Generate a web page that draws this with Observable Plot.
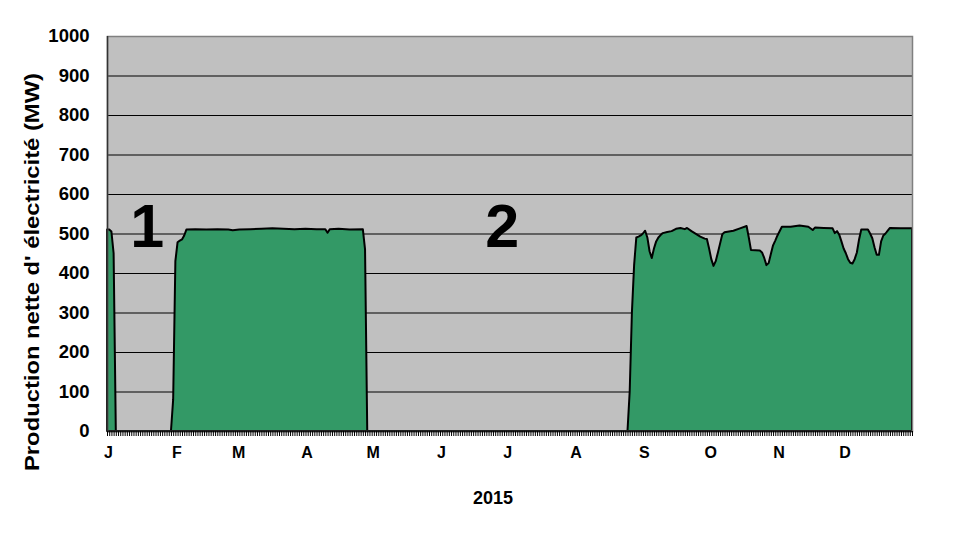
<!DOCTYPE html>
<html><head><meta charset="utf-8">
<script src="https://cdn.jsdelivr.net/npm/d3@7"></script>
<script src="https://cdn.jsdelivr.net/npm/@observablehq/plot@0.6"></script>
<style>body{margin:0;background:#fff;} svg{display:block;}</style>
</head><body><div id="chart"></div>
<script>
// Days since 1 Jan 2015 and net electricity output (MW)
const dayOffsets = [0,1,2,3,4, 29,30,31,32,33,34,35,36,
  40,45,50,55,57,60,65,70,75,80,85,90,95,99,100,101,105,110,116,117,118,
  236,237,238,239,240,241,242,243,244,245,246,247,248,249,250,251,252,
  254,256,258,260,262,263,265,267,269,271,272,273,274,275,276,277,278,279,280,
  284,287,290,291,292,296,297,298,299,300,301,302,303,304,
  306,310,314,318,320,321,325,329,330,331,332,333,334,335,336,337,338,339,340,341,342,
  345,346,347,348,349,350,351,352,353,354,355,360,365];
const outputMW = [510,510,505,450,0, 0,80,430,478,482,485,495,510,
  511,510,511,510,508,510,511,512,513,512,511,512,511,511,502,511,512,510,511,460,0,
  0,100,300,420,490,492,495,500,507,490,455,438,462,480,490,496,501,
  504,506,512,514,511,514,506,499,492,487,486,462,435,418,430,452,475,498,503,
  507,513,519,490,458,457,452,438,420,425,448,470,482,495,
  517,517,520,517,509,515,514,513,501,506,497,480,462,450,435,426,424,435,452,485,510,
  510,500,488,465,446,446,480,495,500,507,514,513,513];
const monthLetters = ["J","F","M","A","M","J","J","A","S","O","N","D"];
const yTicks = [0,100,200,300,400,500,600,700,800,900,1000];
const yearLabel = "2015";
const yTitle = "Production nette d' électricité (MW)";
const cycleLabels = ["1","2"];
const cycleDays = [18,179];
const cycleMW = [516,516];

const start = new Date(Date.UTC(2015,0,1));
const end = new Date(Date.UTC(2016,0,1));
const data = dayOffsets.map((d,i)=>({date: d3.utcDay.offset(start,d), mw: outputMW[i]}));
const months = d3.utcMonth.range(start, end);
const days = d3.utcDay.range(start, d3.utcDay.offset(end,1));
const font = "'Liberation Sans', Arial, sans-serif";
const narrow = "'Liberation Sans Narrow', 'Arial Narrow', 'Liberation Sans', sans-serif";

const chart = Plot.plot({
  width: 975, height: 550,
  marginTop: 36, marginLeft: 107, marginRight: 63, marginBottom: 119,
  style: {fontFamily: font, fontWeight: "bold", background: "#fff", color: "#000"},
  x: {type: "utc", domain: [start, end]},
  y: {domain: [0, 1000]},
  marks: [
    Plot.frame({fill: "#c0c0c0", stroke: null}),
    Plot.gridY({ticks: yTicks.filter(v => v > 0 && v < 1000), stroke: "#000", strokeOpacity: 1, strokeWidth: 1}),
    Plot.areaY(data, {x: "date", y: "mw", fill: "#339966", stroke: "#000", strokeWidth: 2, strokeLinejoin: "round"}),
    Plot.frame({stroke: "#808080", strokeWidth: 1.5}),
    Plot.ruleX([start], {stroke: "#333", strokeWidth: 1.5}),
    Plot.ruleY([0], {stroke: "#222", strokeWidth: 1.5}),
    Plot.axisY({ticks: yTicks, tickSize: 0, tickPadding: 18, fontSize: 18.5, label: null, tickFormat: d => String(d)}),
    Plot.axisX({ticks: days, tickSize: 5, tickFormat: () => "", label: null, stroke: "#000"}),
    Plot.axisX({ticks: months, tickSize: 0, tickPadding: 15, fontSize: 16, dx: 1,
      tickFormat: d => monthLetters[d.getUTCMonth()], label: null}),
    Plot.text(cycleLabels, {x: (d,i) => d3.utcDay.offset(start, cycleDays[i]), y: (d,i) => cycleMW[i],
      text: d => d, fontSize: 61, fontFamily: narrow, fontWeight: "bold", fill: "#000"}),
    Plot.text([yearLabel], {frameAnchor: "bottom", dx: -17, dy: 72, fontSize: 18, fill: "#000"})
  ]
});
d3.select(chart).append("text")
  .attr("transform", "translate(39,272) rotate(-90)")
  .attr("text-anchor", "middle")
  .attr("font-size", 20)
  .attr("font-weight", "bold")
  .attr("font-family", font)
  .attr("fill", "#000")
  .attr("textLength", 398)
  .attr("lengthAdjust", "spacingAndGlyphs")
  .text(yTitle);
document.getElementById("chart").appendChild(chart);
</script>
</body></html>
